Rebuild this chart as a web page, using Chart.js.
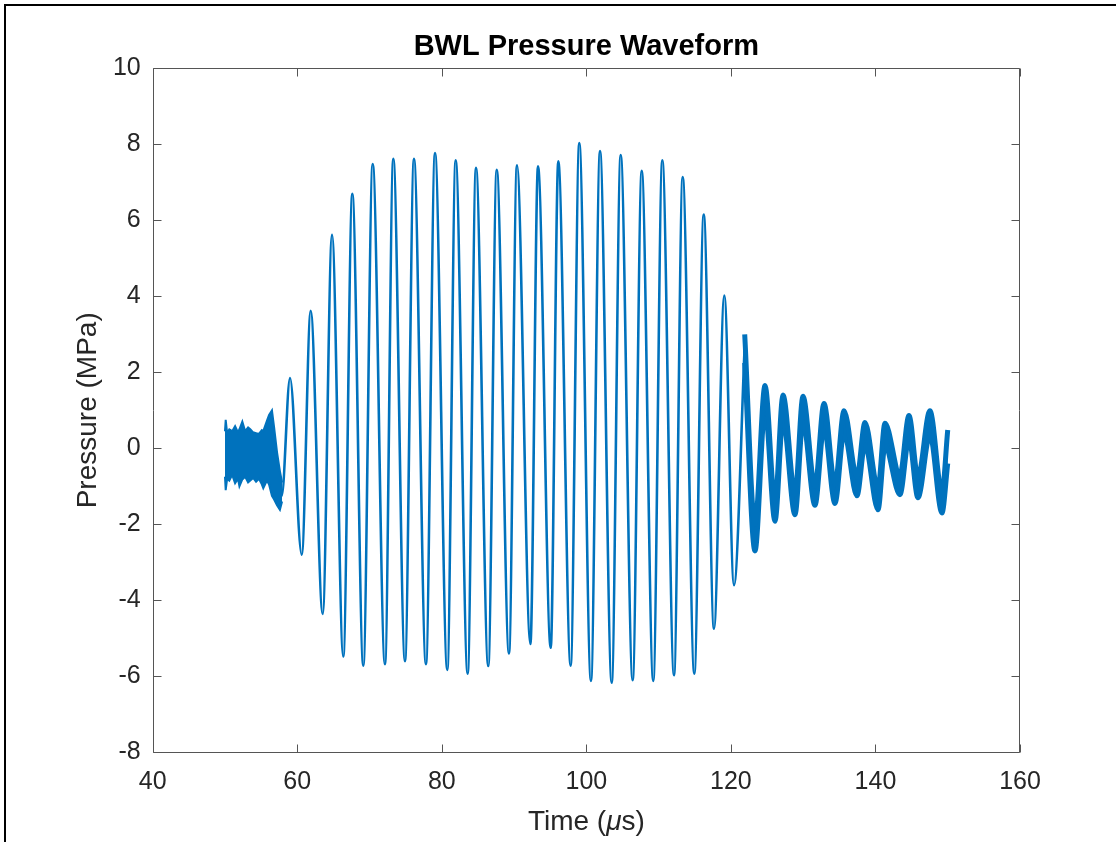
<!DOCTYPE html>
<html>
<head>
<meta charset="utf-8">
<script src="https://cdn.jsdelivr.net/npm/chart.js@4.4.1/dist/chart.umd.min.js"></script>
<style>
  html, body { margin: 0; padding: 0; background: #ffffff; overflow: hidden; }
  #wrap { position: relative; width: 1116px; height: 842px; }
  #c { position: absolute; left: 0; top: 0; }
  #frame { position: absolute; left: 4px; top: 4px; width: 1200px; height: 900px;
           border-left: 2px solid #000; border-top: 2px solid #000; pointer-events: none; }
</style>
</head>
<body>
<div id="wrap">
  <canvas id="c" width="1116" height="842"></canvas>
  <div id="frame"></div>
</div>
<script>
// ---------------- data ----------------
const chartTitle = 'BWL Pressure Waveform';
const yAxisTitle = 'Pressure (MPa)';
const xTitleParts = ['Time (', 'μ', 's)'];

const xTickValues = [40, 60, 80, 100, 120, 140, 160];
const yTickValues = [-8, -6, -4, -2, 0, 2, 4, 6, 8, 10];

// noisy pre-trigger band (time in µs, upper / lower edge in MPa)
const noiseTime  = [50.0, 50.1, 50.3, 50.6, 51.0, 51.4, 51.8, 52.0, 52.4, 52.8, 53.2, 53.5, 53.9, 54.3, 54.7, 55.1, 55.3, 55.8, 56.1, 56.5, 56.8, 57.2, 57.6, 57.9];
const noiseUpper = [0.45, 0.75, 0.40, 0.50, 0.45, 0.58, 0.42, 0.50, 0.70, 0.45, 0.55, 0.50, 0.42, 0.40, 0.38, 0.48, 0.45, 0.72, 0.88, 1.00, 0.55, -0.10, -0.60, -0.90];
const noiseLower = [-0.75, -1.10, -0.80, -0.85, -0.70, -0.92, -0.80, -1.00, -0.82, -0.75, -0.90, -0.85, -0.78, -0.88, -0.80, -0.95, -1.05, -0.85, -0.95, -1.25, -1.35, -1.50, -1.62, -1.40];

// main burst: successive peaks and troughs
const mainTime = [56.9, 57.85, 59.00, 60.62, 61.86, 63.52, 64.81, 66.37, 67.62, 69.14, 70.44, 72.14, 73.29, 74.91, 76.15, 77.81, 79.06, 80.76, 81.92, 83.58, 84.73, 86.43, 87.60, 89.30, 90.40, 92.26, 93.31, 95.07, 96.12, 97.83, 99.02, 100.64, 101.89, 103.51, 104.75, 106.41, 107.66, 109.26, 110.51, 112.13, 113.33, 114.94, 116.24, 117.66, 119.09, 120.43, 121.91];
const mainPressure = [-0.30, -1.25, 1.85, -2.80, 3.62, -4.36, 5.62, -5.48, 6.70, -5.72, 7.48, -5.68, 7.62, -5.60, 7.62, -5.68, 7.77, -5.83, 7.58, -5.93, 7.38, -5.73, 7.33, -5.40, 7.45, -5.15, 7.42, -5.25, 7.55, -5.72, 8.03, -6.12, 7.82, -6.17, 7.72, -6.10, 7.30, -6.12, 7.58, -5.97, 7.14, -5.93, 6.15, -4.75, 4.02, -3.60, 2.70];

// noisy ring-down tail band (upper / lower edge at each extreme)
const tailTime  = [121.91, 123.33, 124.72, 126.10, 127.21, 128.87, 129.97, 131.63, 132.88, 134.40, 135.65, 137.44, 138.55, 140.35, 141.32, 143.39, 144.64, 145.88, 147.54, 149.20, 150.0];
const tailUpper = [3.00, -2.00, 1.65, -1.40, 1.40, -1.20, 1.37, -1.00, 1.18, -0.95, 0.99, -0.75, 0.68, -1.05, 0.66, -0.70, 0.86, -0.75, 0.99, -1.15, 0.48];
const tailLower = [2.25, -2.70, 1.00, -1.92, 0.75, -1.75, 0.70, -1.50, 0.55, -1.45, 0.40, -1.25, 0.10, -1.62, 0.05, -1.22, 0.25, -1.30, 0.35, -1.70, -0.40];

// ---------------- chart ----------------
const BLUE = '#0072BD';
const FONT = "'Liberation Sans', Arial, Helvetica, sans-serif";
const pts = (xs, ys) => xs.map((x, i) => ({ x: x, y: ys[i] }));

const matlabAxes = {
  id: 'matlabAxes',
  afterDatasetsDraw(chart) {
    const { ctx, chartArea: a, scales } = chart;
    const L = Math.round(a.left) + 0.5, R = Math.round(a.right) - 0.5;
    const T = Math.round(a.top) + 0.5, B = Math.round(a.bottom) + 0.5;
    ctx.save();
    ctx.strokeStyle = '#555555';
    ctx.lineWidth = 1;
    ctx.beginPath();
    ctx.rect(L, T, R - L, B - T);
    const tk = 8;
    scales.x.ticks.forEach(t => {
      const px = Math.round(scales.x.getPixelForValue(t.value)) + 0.5;
      ctx.moveTo(px, B); ctx.lineTo(px, B - tk);
      ctx.moveTo(px, T); ctx.lineTo(px, T + tk);
    });
    scales.y.ticks.forEach(t => {
      const py = Math.round(scales.y.getPixelForValue(t.value)) + 0.5;
      ctx.moveTo(L, py); ctx.lineTo(L + tk, py);
      ctx.moveTo(R, py); ctx.lineTo(R - tk, py);
    });
    ctx.stroke();
    ctx.restore();
  },
  afterDraw(chart) {
    const { ctx, chartArea: a } = chart;
    const cx = (a.left + a.right) / 2;
    ctx.save();
    // chart title, centred over the axes box
    ctx.fillStyle = '#000000';
    ctx.textBaseline = 'middle';
    ctx.textAlign = 'center';
    ctx.font = "bold 29px " + FONT;
    ctx.fillText(chartTitle, cx, 46.5);
    // x axis title with italic mu
    ctx.fillStyle = '#262626';
    ctx.textAlign = 'left';
    const normal = "28px " + FONT, ital = "italic 28px " + FONT;
    ctx.font = normal; const w0 = ctx.measureText(xTitleParts[0]).width;
    ctx.font = ital;   const w1 = ctx.measureText(xTitleParts[1]).width;
    ctx.font = normal; const w2 = ctx.measureText(xTitleParts[2]).width;
    const cy = 822;
    let x = cx - (w0 + w1 + w2) / 2;
    ctx.font = normal; ctx.fillText(xTitleParts[0], x, cy); x += w0;
    ctx.font = ital;   ctx.fillText(xTitleParts[1], x, cy); x += w1;
    ctx.font = normal; ctx.fillText(xTitleParts[2], x, cy);
    ctx.restore();
  }
};

new Chart(document.getElementById('c'), {
  type: 'line',
  data: {
    datasets: [
      { data: pts(noiseTime, noiseUpper), borderColor: BLUE, borderWidth: 2, tension: 0, fill: false },
      { data: pts(noiseTime, noiseLower), borderColor: BLUE, borderWidth: 2, tension: 0, fill: '-1', backgroundColor: BLUE },
      { data: pts(mainTime, mainPressure), borderColor: BLUE, borderWidth: 2.6, cubicInterpolationMode: 'monotone', fill: false },
      { data: pts(tailTime, tailUpper), borderColor: BLUE, borderWidth: 5, cubicInterpolationMode: 'monotone', fill: false },
      { data: pts(tailTime, tailLower), borderColor: BLUE, borderWidth: 5, cubicInterpolationMode: 'monotone', fill: '-1', backgroundColor: BLUE }
    ]
  },
  options: {
    responsive: false,
    animation: false,
    devicePixelRatio: 1,
    layout: { padding: { left: 0, right: 96, top: 68.3, bottom: 0 } },
    elements: { point: { radius: 0, hoverRadius: 0 } },
    plugins: {
      legend: { display: false },
      tooltip: { enabled: false },
      title: { display: false }
    },
    scales: {
      x: {
        type: 'linear', min: 40, max: 160,
        afterBuildTicks: s => { s.ticks = xTickValues.map(v => ({ value: v })); },
        afterFit: s => { s.height = 89.7; },
        grid: { display: false, drawTicks: false },
        border: { display: false },
        ticks: { color: '#262626', font: { family: FONT, size: 25 }, padding: 15, maxRotation: 0, autoSkip: false }
      },
      y: {
        type: 'linear', min: -8, max: 10,
        afterBuildTicks: s => { s.ticks = yTickValues.map(v => ({ value: v })); },
        afterFit: s => { s.width = 152.7; },
        grid: { display: false, drawTicks: false },
        border: { display: false },
        ticks: { color: '#262626', font: { family: FONT, size: 25 }, padding: 12, autoSkip: false },
        title: { display: true, text: yAxisTitle, color: '#262626',
                 font: { family: FONT, size: 28, lineHeight: 1.2 }, padding: { top: 71, bottom: 0 } }
      }
    }
  },
  plugins: [matlabAxes]
});
</script>
</body>
</html>
